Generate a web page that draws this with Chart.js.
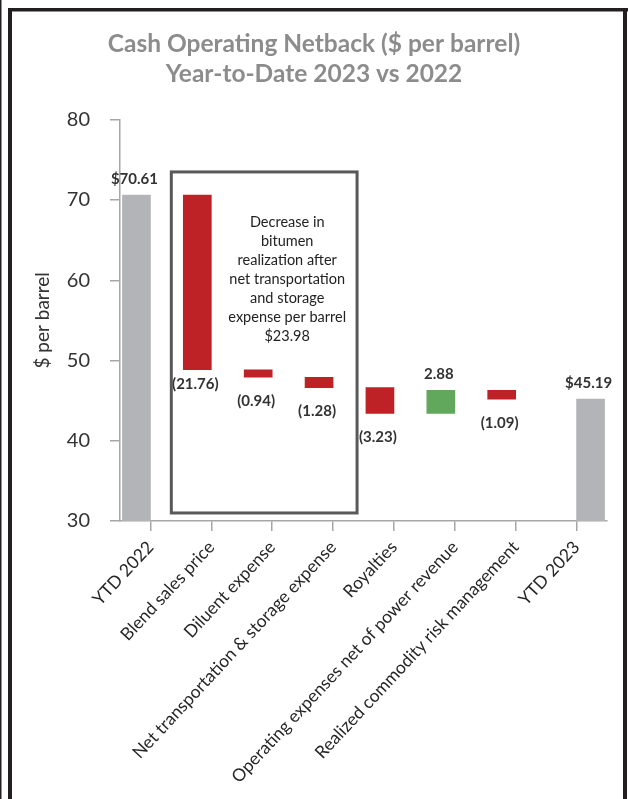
<!DOCTYPE html>
<html>
<head>
<meta charset="utf-8">
<script src="https://cdn.jsdelivr.net/npm/chart.js@4.4.0/dist/chart.umd.min.js"></script>
<style>
  html, body { margin: 0; padding: 0; background: #fff; }
  #wrap { width: 628px; height: 799px; }
</style>
</head>
<body>
<div id="wrap"><canvas id="netbackChart" width="628" height="799"></canvas></div>
<script>
// Data
const categories = [
  'YTD 2022',
  'Blend sales price',
  'Diluent expense',
  'Net transportation & storage expense',
  'Royalties',
  'Operating expenses net of power revenue',
  'Realized commodity risk management',
  'YTD 2023'
];
const startValue = 70.61;
const changes = [-21.76, -0.94, -1.28, -3.23, 2.88, -1.09];
const endValue = 45.19;
const yTicks = [30, 40, 50, 60, 70, 80];
const boxLines = [
  'Decrease in',
  'bitumen',
  'realization after',
  'net transportation',
  'and storage',
  'expense per barrel',
  '$23.98'
];

const GRAY = '#b3b4b7';
const RED = '#be2227';
const GREEN = '#62a85c';
const AXIS = '#a6a6a6';

// Running levels of the waterfall
const levels = [startValue];
changes.forEach(c => levels.push(+(levels[levels.length - 1] + c).toFixed(2)));

const base = yTicks[0];
const lastIdx = categories.length - 1;

// Stack a: first total + the changes; stack b: final total
const flowData = categories.map((_, i) => {
  if (i === 0) return [base, startValue];
  if (i === lastIdx) return null;
  return [levels[i - 1], levels[i]];
});
const endData = categories.map((_, i) => (i === lastIdx ? [base, endValue] : null));

const flowColors = categories.map((_, i) => {
  if (i === 0 || i === lastIdx) return GRAY;
  return changes[i - 1] < 0 ? RED : GREEN;
});

const labelText = categories.map((_, i) => {
  if (i === 0) return '$' + startValue.toFixed(2);
  if (i === lastIdx) return '$' + endValue.toFixed(2);
  const c = changes[i - 1];
  return c < 0 ? '(' + Math.abs(c).toFixed(2) + ')' : c.toFixed(2);
});

// Frame round the picture
const framePlugin = {
  id: 'frame',
  beforeDraw(chart) {
    const ctx = chart.ctx;
    ctx.save();
    ctx.fillStyle = '#fff';
    ctx.fillRect(0, 0, chart.width, chart.height);
    ctx.fillStyle = '#231f20';
    ctx.fillRect(0, 0, 1.5, chart.height);
    ctx.fillRect(8, 8, 4, chart.height);
    ctx.fillRect(8, 8, chart.width - 8, 3.5);
    ctx.fillRect(623, 8, 4, chart.height);
    ctx.restore();
  }
};

// Value labels above / below bars
const valueLabels = {
  id: 'valueLabels',
  afterDatasetsDraw(chart) {
    const ctx = chart.ctx;
    ctx.save();
    ctx.font = 'bold 15px Lato';
    ctx.fillStyle = '#333';
    ctx.textAlign = 'center';
    ctx.textBaseline = 'middle';
    chart.data.datasets.forEach((ds, di) => {
      const meta = chart.getDatasetMeta(di);
      meta.data.forEach((bar, i) => {
        if (ds.data[i] == null) return;
        const top = Math.min(bar.y, bar.base);
        const bottom = Math.max(bar.y, bar.base);
        const down = i > 0 && i < lastIdx && changes[i - 1] < 0;
        const y = down ? bottom + (i === 1 ? 14 : 24) : top - 16;
        ctx.fillText(labelText[i], bar.x - 2, y);
      });
    });
    ctx.restore();
  }
};

// Box with the note round the bitumen realization bars
const noteBox = {
  id: 'noteBox',
  afterDatasetsDraw(chart) {
    const ctx = chart.ctx;
    const x = chart.scales.x;
    const y = chart.scales.y;
    const left = x.getPixelForValue(1) - 40;
    const right = x.getPixelForValue(3) + 24;
    const top = y.getPixelForValue(73.5);
    const bottom = y.getPixelForValue(31);
    ctx.save();
    ctx.strokeStyle = '#595959';
    ctx.lineWidth = 3;
    ctx.strokeRect(left, top, right - left, bottom - top);
    ctx.font = '14.5px Lato';
    ctx.fillStyle = '#222';
    ctx.textAlign = 'center';
    ctx.textBaseline = 'middle';
    const cx = x.getPixelForValue(2) + 15;
    boxLines.forEach((line, k) => {
      ctx.fillText(line, cx, 222 + k * 19);
    });
    ctx.restore();
  }
};

const ctx = document.getElementById('netbackChart').getContext('2d');
new Chart(ctx, {
  type: 'bar',
  data: {
    labels: categories,
    datasets: [
      { data: flowData, backgroundColor: flowColors, stack: 'a', borderWidth: 0 },
      { data: endData, backgroundColor: GRAY, stack: 'b', borderWidth: 0 }
    ]
  },
  options: {
    responsive: false,
    animation: false,
    barThickness: 28,
    layout: { padding: { left: 21, right: 21, top: 0, bottom: 0 } },
    plugins: {
      legend: { display: false },
      tooltip: { enabled: false },
      title: {
        display: true,
        text: ['Cash Operating Netback ($ per barrel)', 'Year-to-Date 2023 vs 2022'],
        color: '#8c8c8c',
        font: { family: 'Lato', size: 24.5, weight: 'bold', lineHeight: 1.22 },
        padding: { top: 29, bottom: 31 }
      }
    },
    scales: {
      x: {
        offset: true,
        grid: { drawOnChartArea: false, drawTicks: true, tickLength: 10, color: AXIS, lineWidth: 1.5, offset: false },
        border: { color: AXIS, width: 1.5 },
        ticks: {
          autoSkip: false,
          maxRotation: 47,
          minRotation: 47,
          color: '#262626',
          font: { family: 'Lato', size: 17.5 },
          padding: 6
        },
        afterFit(scale) { scale.height = 278; }
      },
      y: {
        min: yTicks[0],
        max: yTicks[yTicks.length - 1],
        afterBuildTicks(scale) { scale.ticks = yTicks.map(v => ({ value: v })); },
        grid: { drawOnChartArea: false, drawTicks: true, tickLength: 10, color: AXIS, lineWidth: 1.5 },
        border: { color: AXIS, width: 1.5 },
        ticks: { color: '#333', font: { family: 'Lato', size: 20 }, padding: 20 },
        title: {
          display: true,
          text: '$ per barrel',
          color: '#333',
          font: { family: 'Lato', size: 19 },
          padding: { top: 10, bottom: 0 }
        },
        afterFit(scale) { scale.width = 99; }
      }
    }
  },
  plugins: [framePlugin, valueLabels, noteBox]
});
</script>
</body>
</html>
